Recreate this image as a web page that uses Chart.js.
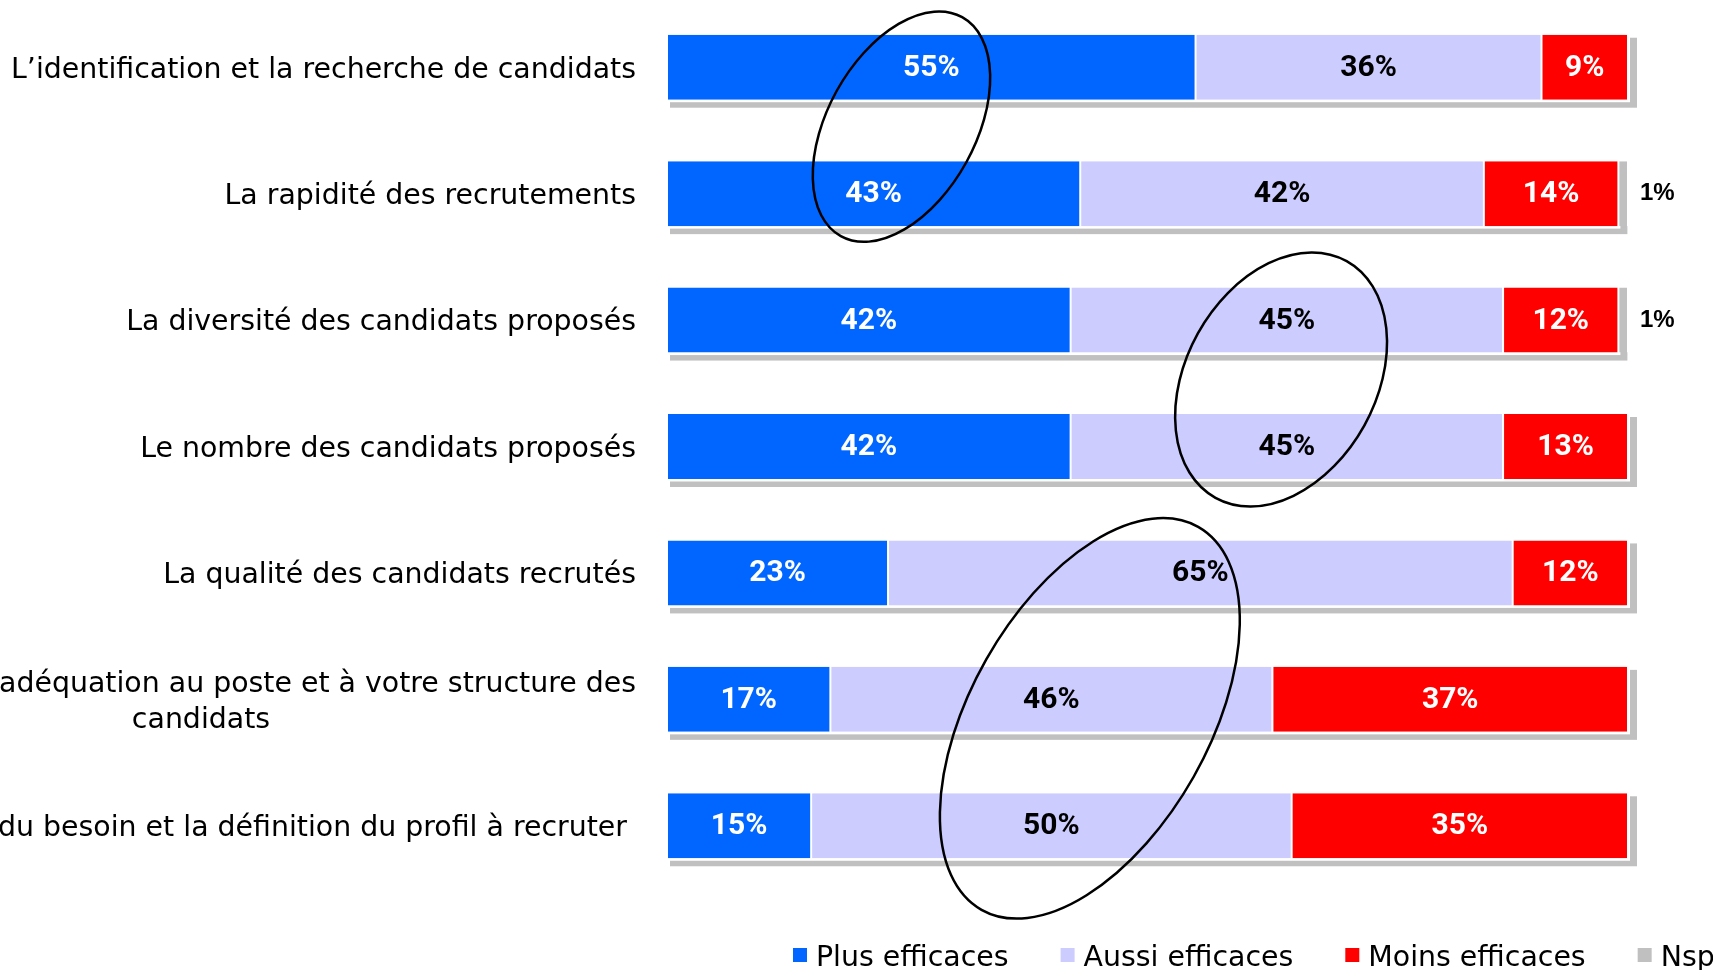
<!DOCTYPE html>
<html>
<head>
<meta charset="utf-8">
<script src="https://cdn.jsdelivr.net/npm/chart.js@4.4.1/dist/chart.umd.min.js"></script>
<style>
  html, body { margin: 0; padding: 0; background: #fff; overflow: hidden; }
  #wrap { width: 1713px; height: 970px; }
</style>
</head>
<body>
<div id="wrap"><canvas id="chart" width="1713" height="970"></canvas></div>
<script>
const categories = [
    'L’identification et la recherche de candidats',
    'La rapidité des recrutements',
    'La diversité des candidats proposés',
    'Le nombre des candidats proposés',
    'La qualité des candidats recrutés',
    ['L’adéquation au poste et à votre structure des', 'candidats'],
    'L’analyse du besoin et la définition du profil à recruter '
];
const seriesNames = ['Plus efficaces', 'Aussi efficaces', 'Moins efficaces', 'Nsp'];
const plusEfficaces  = [55, 43, 42, 42, 23, 17, 15];
const aussiEfficaces = [36, 42, 45, 45, 65, 46, 50];
const moinsEfficaces = [9, 14, 12, 13, 12, 37, 35];
const nsp            = [0, 1, 1, 0, 0, 0, 0];

// hand-drawn circles: centre in (% value, row index), half-axes in (% value, rows), tilt in degrees
const circles = [
    { x: 24.4, y: 0.47, rx: 7.7, ry: 0.99, tilt: 29 },
    { x: 63.9, y: 2.47, rx: 9.9, ry: 1.07, tilt: 29 },
    { x: 44.0, y: 5.15, rx: 12.4, ry: 1.74, tilt: 29.5 }
];

const LABEL_FONT = '28.4px "DejaVu Sans", Verdana, sans-serif';
const VALUE_FONT = 'bold 30px Roboto, "DejaVu Sans", sans-serif';

// grey drop shadow behind each stacked bar (Nsp segment sits on top of it)
const shadowPlugin = {
    id: 'barShadow',
    beforeDatasetsDraw(chart) {
        const ctx = chart.ctx;
        const xs = chart.scales.x;
        chart.getDatasetMeta(0).data.forEach((bar, i) => {
            const total = chart.data.datasets
                .filter(d => d.shadow)
                .reduce((s, d) => s + d.data[i], 0);
            const left = xs.getPixelForValue(0);
            const right = xs.getPixelForValue(total);
            const top = bar.y - bar.height / 2;
            const h = bar.height;
            ctx.save();
            ctx.fillStyle = '#c0c0c0';
            ctx.fillRect(left + 3, top + 3, right - left + 6, h + 5);
            ctx.fillStyle = '#ffffff';
            ctx.fillRect(left - 2, top - 2, right - left + 4, h + 4.5);
            ctx.restore();
        });
    }
};

const valueLabels = {
    id: 'valueLabels',
    afterDatasetsDraw(chart) {
        const ctx = chart.ctx;
        chart.data.datasets.forEach((ds, di) => {
            chart.getDatasetMeta(di).data.forEach((bar, i) => {
                const v = ds.data[i];
                if (!v) return;
                ctx.save();
                ctx.textBaseline = 'middle';
                if (ds.outsideLabel) {
                    ctx.font = 'bold 24px "Liberation Sans", Arial, sans-serif';
                    ctx.fillStyle = '#000';
                    ctx.textAlign = 'left';
                    ctx.fillText(v + '%', chart.chartArea.right + 12, bar.y);
                } else {
                    ctx.font = VALUE_FONT;
                    ctx.fillStyle = ds.labelColor;
                    ctx.textAlign = 'center';
                    ctx.fillText(v + '%', (bar.x + bar.base) / 2, bar.y + 1);
                }
                ctx.restore();
            });
        });
    }
};

const categoryLabels = {
    id: 'categoryLabels',
    afterDraw(chart) {
        const ctx = chart.ctx;
        const ys = chart.scales.y;
        const right = chart.chartArea.left - 31;
        ctx.save();
        ctx.font = LABEL_FONT;
        ctx.fillStyle = '#000';
        ctx.textBaseline = 'middle';
        chart.data.labels.forEach((label, i) => {
            const y = ys.getPixelForValue(i) + 3;
            const lines = Array.isArray(label) ? label : [label];
            const lh = 36;
            const y0 = y - (lines.length - 1) * lh / 2;
            lines.forEach((line, k) => {
                if (k === 0) {
                    ctx.textAlign = 'right';
                    ctx.fillText(line, right, y0);
                } else {
                    ctx.textAlign = 'center';
                    ctx.fillText(line, right - 435, y0 + k * lh);
                }
            });
        });
        ctx.restore();
    }
};

const legendPlugin = {
    id: 'bottomLegend',
    afterDraw(chart) {
        const ctx = chart.ctx;
        let x = chart.chartArea.left + 126;
        const y = chart.height - 15;
        ctx.save();
        ctx.font = LABEL_FONT;
        ctx.textBaseline = 'middle';
        ctx.textAlign = 'left';
        chart.data.datasets.forEach(ds => {
            ctx.fillStyle = ds.backgroundColor;
            ctx.fillRect(x, y - 7, 14, 14);
            ctx.fillStyle = '#000';
            ctx.fillText(ds.label, x + 23, y + 4);
            x += 23 + ctx.measureText(ds.label).width + 52;
        });
        ctx.restore();
    }
};

const circlePlugin = {
    id: 'circles',
    afterDraw(chart) {
        const ctx = chart.ctx;
        const xs = chart.scales.x;
        const ys = chart.scales.y;
        const xUnit = xs.getPixelForValue(1) - xs.getPixelForValue(0);
        const rowUnit = ys.getPixelForValue(1) - ys.getPixelForValue(0);
        ctx.save();
        ctx.strokeStyle = '#000';
        ctx.lineWidth = 2.5;
        circles.forEach(c => {
            const cx = xs.getPixelForValue(c.x);
            const cy = ys.getPixelForValue(0) + c.y * rowUnit;
            ctx.beginPath();
            ctx.ellipse(cx, cy, c.rx * xUnit, c.ry * rowUnit, c.tilt * Math.PI / 180, 0, Math.PI * 2);
            ctx.stroke();
        });
        ctx.restore();
    }
};

const barStyle = {
    borderColor: '#ffffff',
    borderWidth: { left: 1, right: 1, top: 0, bottom: 0 },
    borderSkipped: false,
    barPercentage: 0.514,
    categoryPercentage: 1.0
};

new Chart(document.getElementById('chart'), {
    type: 'bar',
    data: {
        labels: categories,
        datasets: [
            { label: seriesNames[0], data: plusEfficaces, backgroundColor: '#0066ff', labelColor: '#ffffff', shadow: true, ...barStyle },
            { label: seriesNames[1], data: aussiEfficaces, backgroundColor: '#ccccff', labelColor: '#000000', shadow: true, ...barStyle },
            { label: seriesNames[2], data: moinsEfficaces, backgroundColor: '#ff0000', labelColor: '#ffffff', shadow: true, ...barStyle },
            { label: seriesNames[3], data: nsp, backgroundColor: '#c0c0c0', labelColor: '#000000', outsideLabel: true, ...barStyle }
        ]
    },
    options: {
        indexAxis: 'y',
        responsive: false,
        animation: false,
        devicePixelRatio: 1,
        layout: { padding: { left: 667, right: 85, top: 4, bottom: 81 } },
        scales: {
            x: { stacked: true, min: 0, max: 100, display: false },
            y: { stacked: true, display: false }
        },
        plugins: {
            legend: { display: false },
            tooltip: { enabled: false }
        }
    },
    plugins: [shadowPlugin, valueLabels, categoryLabels, legendPlugin, circlePlugin]
});
</script>
</body>
</html>
